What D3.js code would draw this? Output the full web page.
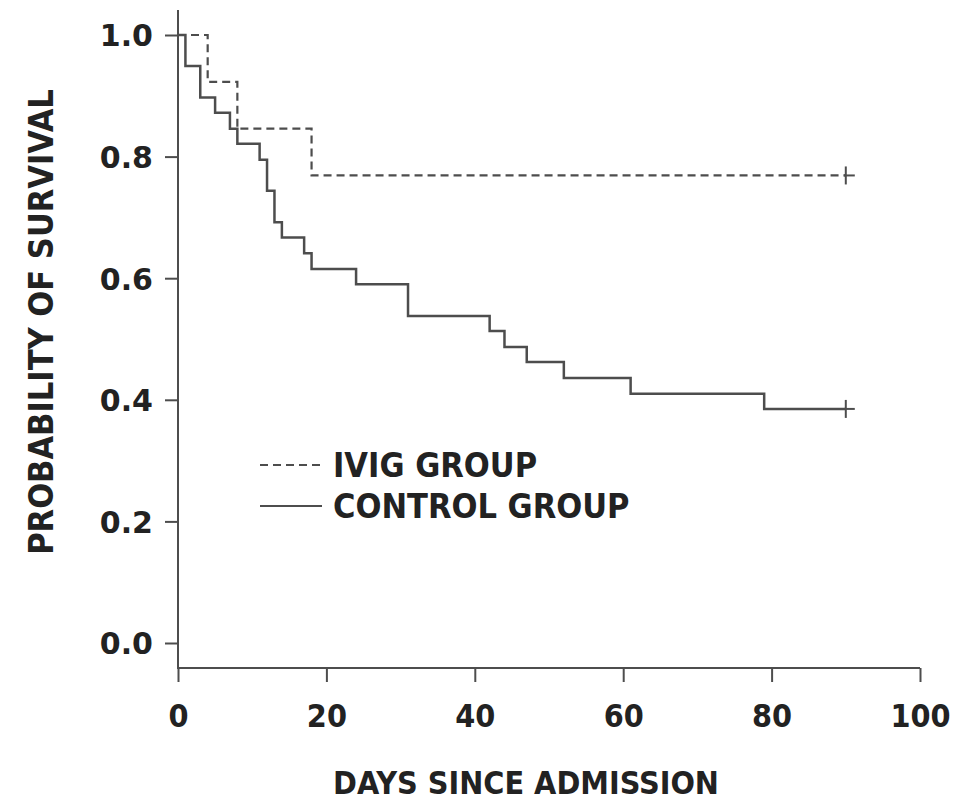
<!DOCTYPE html>
<html>
<head>
<meta charset="utf-8">
<script src="https://cdn.jsdelivr.net/npm/d3@7"></script>
<style>
  body { margin: 0; background: #fff; }
  .cond { font-family: "Liberation Sans Narrow", "DejaVu Sans Condensed", "Open Sans", sans-serif; font-weight: bold; }
</style>
</head>
<body>
<script>
// Kaplan-Meier survival steps
var ivigDays = [0, 4, 8, 18, 90];
var ivigSurv = [1.0, 0.923, 0.846, 0.769, 0.769];

var controlDays = [0, 1, 3, 5, 7, 8, 11, 12, 13, 14, 17, 18, 24, 31, 42, 44, 47, 52, 61, 79, 90];
var controlSurv = [1.0, 0.949, 0.897, 0.872, 0.846, 0.821, 0.795, 0.744, 0.692, 0.667, 0.641, 0.615, 0.590, 0.538, 0.513, 0.487, 0.462, 0.436, 0.410, 0.385, 0.385];

var xTicks = [0, 20, 40, 60, 80, 100];
var yTicks = [0, 0.2, 0.4, 0.6, 0.8, 1.0];

var W = 968, H = 802;
var ink = "#4d4d4d", txt = "#222";

var svg = d3.select("body").append("svg")
  .attr("width", W).attr("height", H);

var x = d3.scaleLinear().domain([0, 100]).range([178, 920]);
var y = d3.scaleLinear().domain([0, 1]).range([643, 35]);
var axisY = 668;

// y axis
var gy = svg.append("g").attr("transform", "translate(178,0)")
  .call(d3.axisLeft(y).tickValues(yTicks).tickSize(13).tickSizeOuter(0).tickPadding(12)
    .tickFormat(d3.format(".1f")));
gy.select(".domain").remove();
gy.selectAll(".tick line").attr("stroke", ink).attr("stroke-width", 2);
gy.selectAll(".tick text")
  .attr("fill", txt)
  .style("font-family", "'DejaVu Sans', Verdana, sans-serif")
  .style("font-weight", "bold")
  .style("font-size", "30px")
  .attr("dy", "0.36em");
svg.append("line").attr("x1", 178).attr("x2", 178).attr("y1", 10).attr("y2", axisY)
  .attr("stroke", ink).attr("stroke-width", 2);

// x axis
var gx = svg.append("g").attr("transform", "translate(0," + axisY + ")")
  .call(d3.axisBottom(x).tickValues(xTicks).tickSize(14).tickSizeOuter(0).tickPadding(22));
gx.select(".domain").remove();
gx.selectAll(".tick line").attr("stroke", ink).attr("stroke-width", 2);
gx.selectAll(".tick text")
  .attr("class", "cond")
  .attr("fill", txt)
  .style("font-size", "32px");
svg.append("line").attr("x1", 177).attr("x2", 920).attr("y1", axisY).attr("y2", axisY)
  .attr("stroke", ink).attr("stroke-width", 2);

// curves
var line = d3.line()
  .x(function (d) { return x(d[0]); })
  .y(function (d) { return y(d[1]); })
  .curve(d3.curveStepAfter);

var ivig = ivigDays.map(function (d, i) { return [d, ivigSurv[i]]; });
var control = controlDays.map(function (d, i) { return [d, controlSurv[i]]; });

svg.append("path").datum(control)
  .attr("d", line).attr("fill", "none")
  .attr("stroke", ink).attr("stroke-width", 2.5);

svg.append("path").datum(ivig)
  .attr("d", line).attr("fill", "none")
  .attr("stroke", ink).attr("stroke-width", 2.2)
  .attr("stroke-dasharray", "8,5");

// censor marks at the end
[ivig[ivig.length - 1], control[control.length - 1]].forEach(function (d) {
  var cx = x(d[0]), cy = y(d[1]);
  svg.append("line").attr("x1", cx).attr("x2", cx).attr("y1", cy - 9).attr("y2", cy + 9)
    .attr("stroke", ink).attr("stroke-width", 2);
  svg.append("line").attr("x1", cx - 2).attr("x2", cx + 9).attr("y1", cy).attr("y2", cy)
    .attr("stroke", ink).attr("stroke-width", 2);
});

// legend
var legend = [
  {label: "IVIG GROUP", dash: "8,5", y: 465},
  {label: "CONTROL GROUP", dash: null, y: 506}
];
legend.forEach(function (l) {
  svg.append("line").attr("x1", 260).attr("x2", 322).attr("y1", l.y).attr("y2", l.y)
    .attr("stroke", ink).attr("stroke-width", 2.2)
    .attr("stroke-dasharray", l.dash);
  svg.append("text").attr("class", "cond")
    .attr("x", 333).attr("y", l.y).attr("dy", "0.36em")
    .attr("fill", txt).style("font-size", "34px")
    .text(l.label);
});

// axis titles
svg.append("text").attr("class", "cond")
  .attr("x", 526).attr("y", 794).attr("text-anchor", "middle")
  .attr("fill", txt).style("font-size", "32px")
  .text("DAYS SINCE ADMISSION");

svg.append("text").attr("class", "cond")
  .attr("transform", "translate(53,322) rotate(-90)")
  .attr("text-anchor", "middle")
  .attr("fill", txt).style("font-size", "34px")
  .text("PROBABILITY OF SURVIVAL");
</script>
</body>
</html>
